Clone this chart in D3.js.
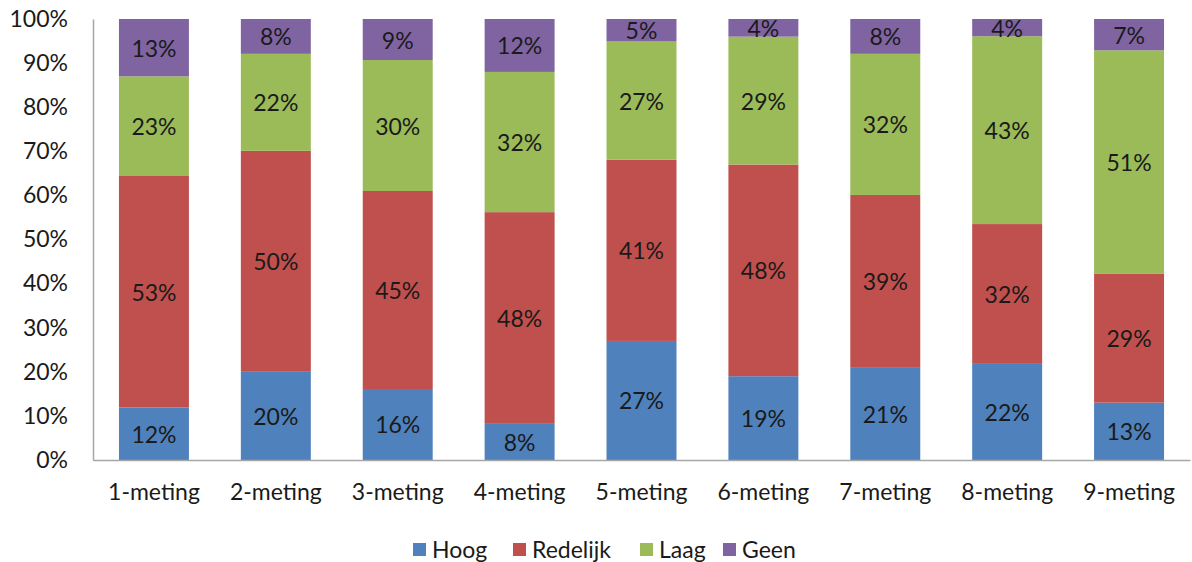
<!DOCTYPE html>
<html>
<head>
<meta charset="utf-8">
<script src="https://cdn.jsdelivr.net/npm/d3@7"></script>
<style>
  html, body { margin: 0; padding: 0; background: #fff; }
  svg text { font-family: Lato, "Open Sans", sans-serif; fill: #1a1a1a; }
</style>
</head>
<body>
<svg id="chart" width="1192" height="562"></svg>
<script>
const categories = ["1-meting","2-meting","3-meting","4-meting","5-meting","6-meting","7-meting","8-meting","9-meting"];
const seriesNames = ["Hoog","Redelijk","Laag","Geen"];
const hoog     = [11.9, 20.0, 16.1,  8.2, 27.0, 19.0, 20.9, 21.8, 13.0];
const redelijk = [52.5, 50.1, 44.9, 48.0, 41.1, 48.0, 39.2, 31.7, 29.2];
const laag     = [22.6, 22.0, 29.7, 31.8, 26.8, 29.0, 32.0, 42.6, 50.7];
const geen     = [13.0,  7.9,  9.3, 12.0,  5.1,  4.0,  7.9,  3.9,  7.1];
const yTicks = [0,10,20,30,40,50,60,70,80,90,100];
const colors = ["#4F81BD","#C0504D","#9BBB59","#8064A2"];

(function () {
const FS = 23;
const rows = categories.map((c, i) => ({
  cat: c, Hoog: hoog[i], Redelijk: redelijk[i], Laag: laag[i], Geen: geen[i]
}));

const svg = d3.select("#chart");
const mLeft = 93, mRight = 1190, mTop = 19, mBottom = 460;

const x = d3.scaleBand().domain(categories).range([mLeft, mRight])
  .paddingInner(0.426).paddingOuter(0.213);
const y = d3.scaleLinear().domain([0, 100]).range([mBottom, mTop]);
const color = d3.scaleOrdinal().domain(seriesNames).range(colors);

const stacked = d3.stack().keys(seriesNames)(rows);

// bars
svg.append("g").selectAll("g.series").data(stacked).join("g")
  .attr("class", "series")
  .attr("fill", d => color(d.key))
  .selectAll("rect").data(d => d).join("rect")
  .attr("x", d => x(d.data.cat))
  .attr("width", x.bandwidth())
  .attr("y", d => y(d[1]))
  .attr("height", d => y(d[0]) - y(d[1]));

// labels
const fmt = d3.format(".0f");
svg.append("g").selectAll("g").data(stacked).join("g")
  .selectAll("text").data(d => d).join("text")
  .attr("x", d => x(d.data.cat) + x.bandwidth() / 2)
  .attr("y", d => (y(d[0]) + y(d[1])) / 2)
  .attr("text-anchor", "middle")
  .attr("dominant-baseline", "central")
  .attr("font-size", FS)
  .text(d => fmt(d[1] - d[0]) + "%");

// y axis
const yAxis = d3.axisLeft(y).tickValues(yTicks).tickSize(0).tickPadding(25)
  .tickFormat(d => d + "%");
const ya = svg.append("g").attr("transform", `translate(${mLeft},0)`).call(yAxis);
ya.select(".domain").attr("stroke", "#A6A6A6").attr("stroke-width", 1.5);
ya.selectAll("text").attr("font-size", FS).attr("fill", "#1a1a1a")
  .style("font-family", "Lato, 'Open Sans', sans-serif");

// x axis
const xAxis = d3.axisBottom(x).tickSize(0).tickPadding(24);
const xa = svg.append("g").attr("transform", `translate(0,${mBottom})`).call(xAxis);
xa.select(".domain").attr("stroke", "#A6A6A6").attr("stroke-width", 1.5);
xa.selectAll("text").attr("font-size", FS).attr("fill", "#1a1a1a")
  .style("font-family", "Lato, 'Open Sans', sans-serif");

// legend
const legendX = [413, 513, 640, 723];
const items = svg.append("g").selectAll("g").data(seriesNames).join("g")
  .attr("transform", (d, i) => `translate(${legendX[i]},549)`);
items.append("rect").attr("x", 0).attr("y", -6).attr("width", 13).attr("height", 13)
  .attr("fill", d => color(d));
items.append("text").attr("x", 19).attr("y", 0)
  .attr("dominant-baseline", "central").attr("font-size", FS).text(d => d);
})();
</script>
</body>
</html>
